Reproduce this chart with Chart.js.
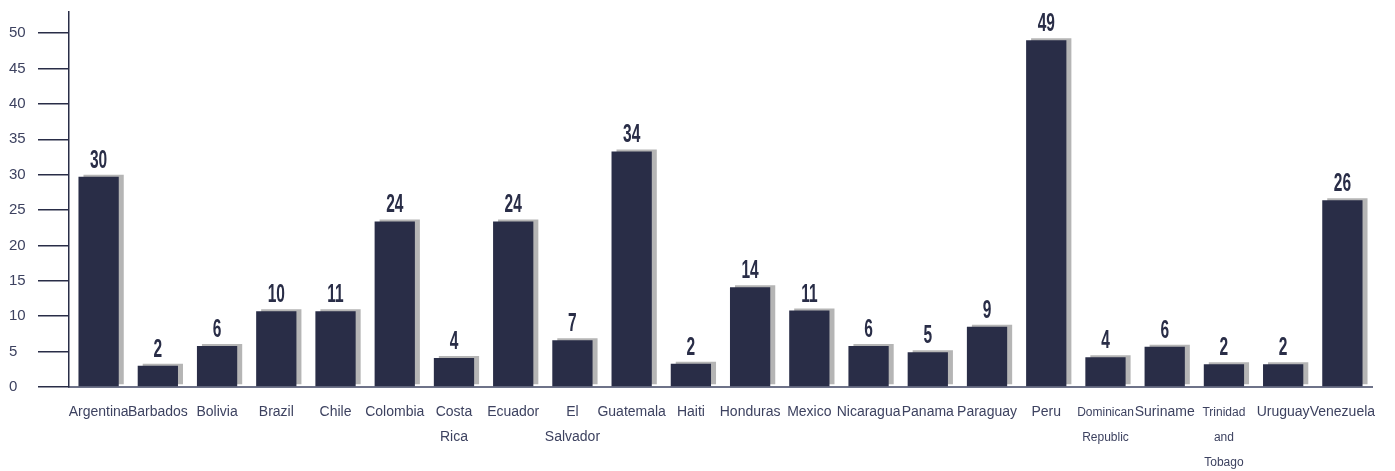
<!DOCTYPE html>
<html>
<head>
<meta charset="utf-8">
<script src="https://cdn.jsdelivr.net/npm/chart.js@4/dist/chart.umd.min.js"></script>
<style>
  html, body { margin: 0; padding: 0; background: #fff; }
  #wrap { width: 1395px; height: 471px; }
</style>
</head>
<body>
<div id="wrap"><canvas id="bars" width="1395" height="471"></canvas></div>
<script>
const countries = [
  "Argentina", "Barbados", "Bolivia", "Brazil", "Chile", "Colombia", ["Costa", "Rica"],
  "Ecuador", ["El", "Salvador"], "Guatemala", "Haiti", "Honduras", "Mexico", "Nicaragua",
  "Panama", "Paraguay", "Peru", ["Dominican", "Republic"], "Suriname", ["Trinidad", "and", "Tobago"],
  "Uruguay", "Venezuela"
];
// bar heights as drawn
const barHeights = [29.7, 3.0, 5.8, 10.7, 10.7, 23.4, 4.1, 23.4, 6.6, 33.3, 3.3,
  14.1, 10.8, 5.8, 4.9, 8.5, 49.0, 4.2, 5.7, 3.2, 3.2, 26.4];
// numbers printed over the bars
const barLabels = [30, 2, 6, 10, 11, 24, 4, 24, 7, 34, 2, 14, 11, 6, 5, 9, 49, 4, 6, 2, 2, 26];
const yTicks = [0, 5, 10, 15, 20, 25, 30, 35, 40, 45, 50];

const NAVY = "#292d47";
const TEXT = "#3d4260";
const SANS = "'Liberation Sans', Arial, sans-serif";
const smallLabels = ["Dominican", "Trinidad"];

const shadowAndLabels = {
  id: "shadowAndLabels",
  beforeDatasetsDraw(chart){
    const c = chart.ctx;
    c.save();
    c.shadowColor = "#b5b5b5";
    c.shadowOffsetX = 5;
    c.shadowOffsetY = -2;
    c.shadowBlur = 0;
  },
  afterDatasetsDraw(chart){
    const c = chart.ctx;
    c.restore();
    const meta = chart.getDatasetMeta(0);
    c.save();
    c.fillStyle = NAVY;
    c.textAlign = "center";
    c.textBaseline = "alphabetic";
    c.font = "bold 25px 'Liberation Sans', Arial, sans-serif";
    meta.data.forEach((bar, i) => {
      c.save();
      c.translate(bar.x, bar.y - 9);
      c.scale(0.62, 1);
      c.fillText(String(barLabels[i]), 0, 0);
      c.restore();
    });
    c.restore();
  }
};

new Chart(document.getElementById("bars"), {
  type: "bar",
  data: {
    labels: countries,
    datasets: [{
      data: barHeights,
      backgroundColor: NAVY,
      borderWidth: 0,
      barPercentage: 0.68,
      categoryPercentage: 1
    }]
  },
  options: {
    responsive: false,
    animation: false,
    layout: { padding: { left: 9, right: 23, top: 5, bottom: 0 } },
    plugins: { legend: { display: false }, tooltip: { enabled: false } },
    scales: {
      x: {
        afterFit: s => { s.height = 84; },
        grid: { display: false },
        border: { display: true, color: "#6e7389", width: 2 },
        ticks: {
          autoSkip: false,
          maxRotation: 0,
          minRotation: 0,
          padding: 5,
          color: TEXT,
          font: ctx => {
            const l = countries[ctx.index];
            const first = Array.isArray(l) ? l[0] : l;
            return smallLabels.includes(first)
              ? { family: SANS, size: 12, lineHeight: 2.08 }
              : { family: SANS, size: 14, lineHeight: 1.79 };
          }
        }
      },
      y: {
        min: 0,
        max: 53,
        afterFit: s => { s.width = 60; },
        afterBuildTicks: s => { s.ticks = yTicks.map(v => ({ value: v })); },
        grid: {
          drawOnChartArea: false,
          drawTicks: true,
          tickLength: 31,
          tickColor: NAVY,
          lineWidth: 1.5
        },
        border: { display: true, color: NAVY, width: 1.5 },
        ticks: {
          crossAlign: "far",
          color: TEXT,
          font: { family: SANS, size: 15 }
        }
      }
    }
  },
  plugins: [shadowAndLabels]
});
</script>
</body>
</html>
